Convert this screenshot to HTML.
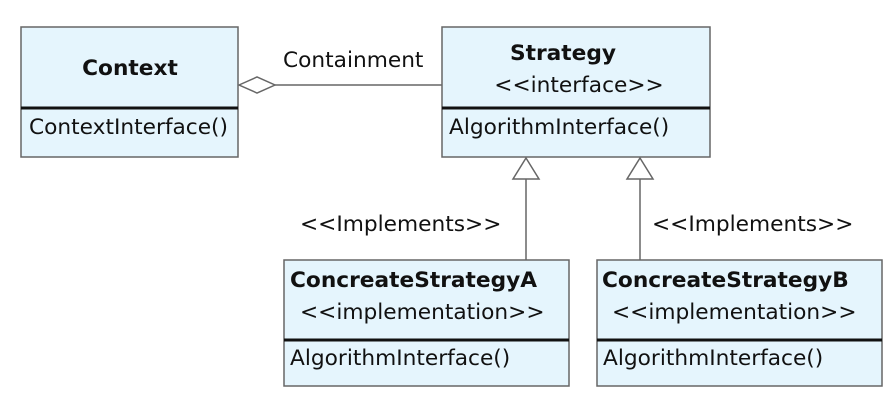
<!DOCTYPE html>
<html><head><style>body{margin:0;background:#fff}</style></head><body>
<svg width="893" height="403" xmlns="http://www.w3.org/2000/svg" font-family="DejaVu Sans, Liberation Sans, sans-serif" font-size="21.7" fill="#111">
<g stroke="#666" stroke-width="1.5" fill="#e5f5fd">
<rect x="21" y="27" width="217" height="130"/>
<rect x="442" y="27" width="268" height="130"/>
<rect x="284" y="260" width="285" height="126"/>
<rect x="597" y="260" width="285" height="126"/>
</g>
<g stroke="#111" stroke-width="3">
<line x1="21" y1="108" x2="238" y2="108"/>
<line x1="442" y1="108" x2="710" y2="108"/>
<line x1="284" y1="340" x2="569" y2="340"/>
<line x1="597" y1="340" x2="882" y2="340"/>
</g>
<g stroke="#666" stroke-width="1.5" fill="#fff">
<line x1="275" y1="85" x2="442" y2="85"/>
<polygon points="239,85 257,77 275,85 257,93"/>
<line x1="526" y1="179" x2="526" y2="260"/>
<line x1="640" y1="179" x2="640" y2="260"/>
<polygon points="526,158 513,179 539,179"/>
<polygon points="640,158 627,179 653,179"/>
</g>
<text x="130" y="75" font-weight="bold" text-anchor="middle">Context</text>
<text x="29" y="134">ContextInterface()</text>
<text x="283" y="67">Containment</text>
<text x="563" y="60" font-weight="bold" text-anchor="middle">Strategy</text>
<text x="579" y="92" text-anchor="middle">&lt;&lt;interface&gt;&gt;</text>
<text x="449" y="134">AlgorithmInterface()</text>
<text x="300" y="231">&lt;&lt;Implements&gt;&gt;</text>
<text x="652" y="231">&lt;&lt;Implements&gt;&gt;</text>
<text x="290" y="287" font-weight="bold">ConcreateStrategyA</text>
<text x="300" y="319">&lt;&lt;implementation&gt;&gt;</text>
<text x="290" y="365">AlgorithmInterface()</text>
<text x="602" y="287" font-weight="bold">ConcreateStrategyB</text>
<text x="612" y="319">&lt;&lt;implementation&gt;&gt;</text>
<text x="603" y="365">AlgorithmInterface()</text>
</svg>
</body></html>
